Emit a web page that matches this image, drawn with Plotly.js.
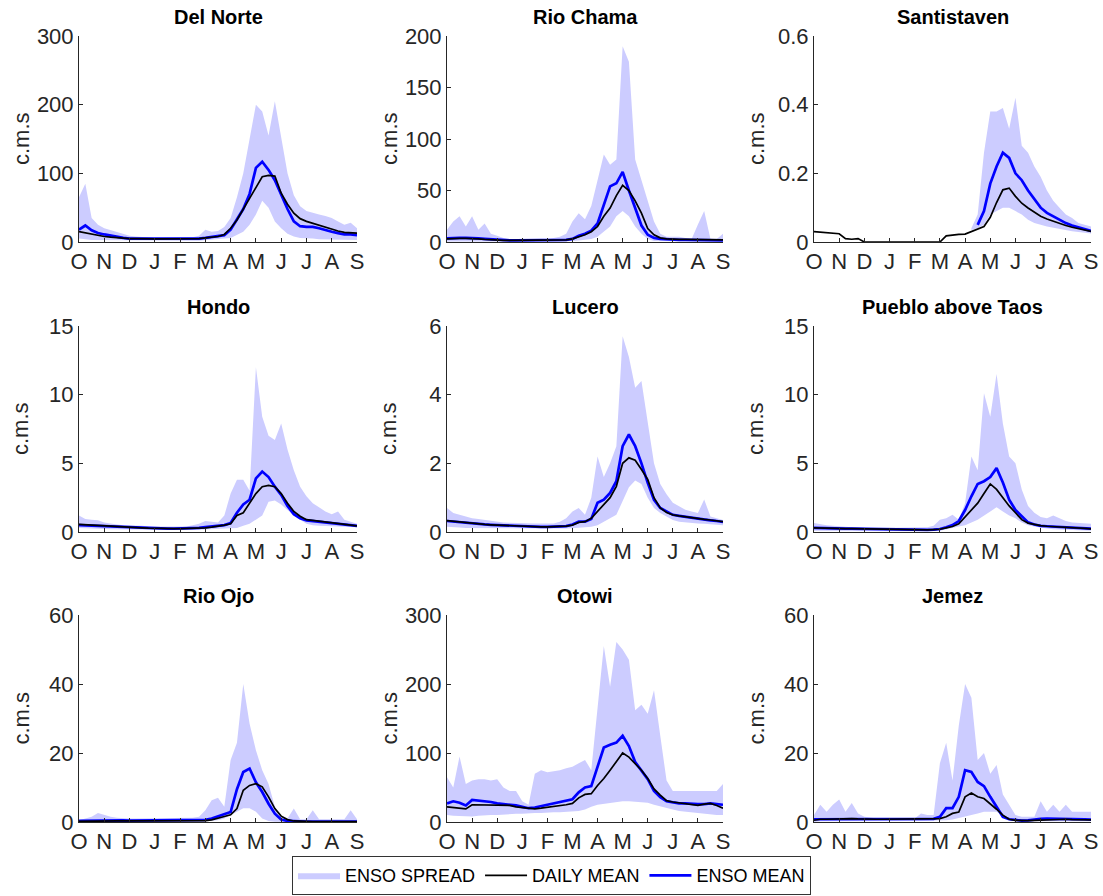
<!DOCTYPE html>
<html>
<head>
<meta charset="utf-8">
<script src="https://cdn.plot.ly/plotly-3.0.1.min.js"></script>
<style>
html,body{margin:0;padding:0;background:#fff;}
#chart{width:1103px;height:896px;}
</style>
</head>
<body>
<div id="chart"></div>
<script>
// ---- tick labels (water year, Oct -> Sep) ----
const monthLabels = ['O','N','D','J','F','M','A','M','J','J','A','S'];
const monthTicks = [0,1,2,3,4,5,6,7,8,9,10,11];

// sample positions, in months since 1 Oct
const xMonths = [0,0.25,0.5,0.75,1,1.25,1.5,1.75,2,2.25,2.5,2.75,3,3.25,3.5,3.75,4,4.25,4.5,4.75,5,5.25,5.5,5.75,6,6.25,6.5,6.75,7,7.25,7.5,7.75,8,8.25,8.5,8.75,9,9.25,9.5,9.75,10,10.25,10.5,10.75,11];

// ---- stations ----
const stationNames = ['Del Norte','Rio Chama','Santistaven','Hondo','Lucero','Pueblo above Taos','Rio Ojo','Otowi','Jemez'];
const yMaxima = [300,200,0.6,15,6,15,60,300,60];
const yTickValues = [[0,100,200,300],[0,50,100,150,200],[0,0.2,0.4,0.6],[0,5,10,15],[0,2,4,6],[0,5,10,15],[0,20,40,60],[0,100,200,300],[0,20,40,60]];

// Del Norte
const delNorteMean  = [15,13,11,9,8,7,6,5.5,5,5,4.5,4.5,4.5,4.5,4.5,4.5,4.5,4.5,5,5,6,7,8,11,20,32,48,62,80,95,97,96,71,55,42,34,30,27,24,21,18,16,14,13,13];
const delNorteEnso  = [18,24,17,13,11,9,7,6,5,5,4.5,4.5,4.5,4.5,4.5,4.5,4.5,4.5,5,5,6,7,8,10,18,33,48,70,108,117,105,90,68,48,30,23,22,22,20,17,15,13,11,11,10];
const delNorteUpper = [65,85,35,25,20,17,15,12,9,8,7,7,6,6,6,6,6,6,7,9,18,15,16,22,35,65,100,150,200,190,155,205,150,100,68,52,45,42,40,38,35,30,25,28,20];
const delNorteLower = [5,4,3,3,3,2.5,2.5,2,2,2,2,2,2,2,2,2,2,2,2,2,3,3,4,5,6,10,15,25,40,60,50,30,20,12,8,6,5,5,4,4,4,4,3,3,3];

// Rio Chama
const rioChamaMean  = [3,3.5,3.5,3.5,3.5,3,2.5,2,2,1.5,1.5,1.5,1.5,1.5,1.5,1.5,1.5,1.5,1.5,2,3,5,7,10,15,25,33,45,55,50,40,28,13,7,4,3,2.5,2.5,2.5,2.5,2,2,2,2,2];
const rioChamaEnso  = [3.5,4,4,4,4,3.5,3,2.5,2,1.5,1.5,1.5,1.5,1.5,1.5,1.5,1.5,1.5,1.5,2,3,6,8,11,18,36,54,57,68,50,32,16,7,4,3,2.5,2,2,2,2,2,2,2,1.5,1.5];
const rioChamaUpper = [12,20,25,15,25,12,18,8,6,4,3,3,3,3,3,3,3,4,5,8,20,28,22,35,60,85,75,80,190,175,80,60,40,20,8,5,5,5,4,3,17,30,3,3,8];
const rioChamaLower = [0.5,0.5,0.5,0.5,0.5,0.5,0.5,0.5,0.5,0.5,0.5,0.5,0.5,0.5,0.5,0.5,0.5,0.5,0.5,0.5,1,1.5,2,3,5,10,15,25,30,25,15,8,3,1,0.5,0.5,0.5,0.5,0.5,0.5,0.5,0.5,0.5,0.5,0.5];

// Santistaven
const santistavenMean  = [0.03,0.029,0.028,0.027,0.024,0.01,0.008,0.01,0,0,0,0,0,0,0,0,0,0,0,0,0,0.018,0.021,0.022,0.023,0.03,0.037,0.045,0.072,0.115,0.152,0.157,0.133,0.113,0.099,0.087,0.075,0.067,0.06,0.054,0.048,0.043,0.039,0.035,0.031];
const santistavenEnso  = [0.035,null,null,null,null,null,null,null,null,null,null,null,null,null,null,null,null,null,null,null,null,null,null,null,null,null,0.05,0.09,0.17,0.22,0.26,0.245,0.2,0.18,0.15,0.125,0.1,0.085,0.075,0.065,0.055,0.048,0.042,0.036,0.032];
const santistavenUpper = [null,null,null,null,null,null,null,null,null,null,null,null,null,null,null,null,null,null,null,null,null,null,null,null,null,0.04,0.08,0.26,0.38,0.38,0.39,0.33,0.42,0.28,0.26,0.22,0.19,0.15,0.12,0.1,0.08,0.07,0.055,0.05,0.045];
const santistavenLower = [null,null,null,null,null,null,null,null,null,null,null,null,null,null,null,null,null,null,null,null,null,null,null,null,null,0.035,0.04,0.05,0.08,0.09,0.1,0.1,0.09,0.08,0.065,0.055,0.05,0.045,0.04,0.037,0.034,0.031,0.029,0.026,0.025];

// Hondo
const hondoMean  = [0.55,0.52,0.5,0.47,0.45,0.42,0.4,0.37,0.35,0.32,0.3,0.28,0.26,0.25,0.25,0.25,0.25,0.25,0.27,0.28,0.3,0.35,0.4,0.5,0.6,1.2,1.4,2.1,2.8,3.3,3.4,3.3,2.8,2.1,1.5,1.15,0.9,0.85,0.8,0.75,0.7,0.65,0.6,0.52,0.45];
const hondoEnso  = [0.5,0.48,0.46,0.44,0.42,0.4,0.38,0.36,0.34,0.32,0.3,0.28,0.26,0.25,0.25,0.25,0.25,0.25,0.27,0.3,0.35,0.4,0.45,0.5,0.65,1.4,2.0,2.35,3.9,4.4,4.0,3.3,2.7,1.9,1.3,1.0,0.85,0.8,0.75,0.7,0.65,0.6,0.55,0.5,0.45];
const hondoUpper = [1.2,0.95,0.9,0.85,0.7,0.6,0.55,0.5,0.5,0.45,0.45,0.4,0.4,0.35,0.35,0.35,0.35,0.4,0.5,0.6,0.8,0.75,0.7,1.2,2.8,3.8,3.8,3.0,12,8.4,7.0,6.7,7.9,6.0,4.5,3.3,2.6,2.1,1.8,1.5,1.3,1.5,0.9,0.75,0.6];
const hondoLower = [0.3,0.28,0.26,0.24,0.22,0.2,0.19,0.18,0.17,0.16,0.15,0.15,0.15,0.15,0.15,0.15,0.15,0.15,0.15,0.16,0.17,0.2,0.22,0.25,0.28,0.3,0.45,0.6,0.9,1.2,2.2,2.3,2.0,1.6,1.2,0.9,0.6,0.5,0.45,0.42,0.4,0.38,0.37,0.36,0.35];

// Lucero
const luceroMean  = [0.33,0.31,0.28,0.26,0.25,0.23,0.22,0.21,0.2,0.19,0.18,0.17,0.17,0.16,0.16,0.15,0.15,0.15,0.15,0.17,0.2,0.28,0.3,0.4,0.6,0.8,1.0,1.33,2.0,2.16,2.09,1.82,1.53,1.0,0.7,0.57,0.5,0.47,0.44,0.41,0.38,0.37,0.35,0.33,0.3];
const luceroEnso  = [0.32,0.3,0.28,0.26,0.24,0.23,0.22,0.21,0.2,0.19,0.18,0.17,0.17,0.16,0.16,0.15,0.15,0.15,0.15,0.17,0.22,0.3,0.3,0.38,0.85,0.94,1.14,1.48,2.5,2.84,2.5,2.0,1.43,0.94,0.7,0.6,0.5,0.47,0.44,0.41,0.38,0.36,0.34,0.32,0.29];
const luceroUpper = [0.7,0.55,0.5,0.45,0.4,0.38,0.35,0.32,0.3,0.28,0.27,0.26,0.25,0.25,0.25,0.25,0.25,0.25,0.3,0.4,0.6,0.7,0.5,1.0,2.2,1.6,2.0,2.5,5.7,5.1,4.2,4.4,3.2,2.0,1.4,1.1,0.85,0.75,0.65,0.6,0.55,0.95,0.45,0.4,0.35];
const luceroLower = [0.15,0.14,0.13,0.12,0.12,0.11,0.11,0.1,0.1,0.1,0.1,0.1,0.1,0.1,0.1,0.1,0.1,0.1,0.1,0.1,0.11,0.12,0.13,0.15,0.2,0.3,0.4,0.5,0.9,1.3,1.5,1.4,1.0,0.7,0.55,0.45,0.35,0.3,0.28,0.26,0.25,0.24,0.23,0.22,0.2];

// Pueblo above Taos
const puebloMean  = [0.3,0.3,0.3,0.28,0.26,0.25,0.24,0.23,0.22,0.2,0.19,0.18,0.17,0.16,0.15,0.15,0.15,0.15,0.16,0.18,0.2,0.3,0.4,0.6,1.1,1.6,2.1,2.8,3.5,3.1,2.5,1.9,1.4,0.9,0.65,0.55,0.46,0.42,0.4,0.38,0.35,0.32,0.3,0.27,0.22];
const puebloEnso  = [0.3,0.3,0.3,0.28,0.26,0.25,0.24,0.23,0.22,0.2,0.19,0.18,0.17,0.16,0.15,0.15,0.15,0.15,0.16,0.18,0.22,0.35,0.5,0.8,1.6,2.6,3.5,3.7,4.0,4.65,3.6,2.35,1.6,1.15,0.7,0.55,0.45,0.42,0.4,0.38,0.35,0.32,0.3,0.27,0.25];
const puebloUpper = [0.65,0.55,0.5,0.45,0.4,0.38,0.35,0.33,0.3,0.3,0.3,0.3,0.3,0.3,0.3,0.3,0.3,0.3,0.35,0.45,0.9,1.0,1.25,0.9,2.1,5.5,4.5,10.1,8.4,11.5,7.9,5.5,5.0,3.1,1.9,1.4,1.1,1.0,1.2,1.0,0.8,0.7,0.65,0.6,0.6];
const puebloLower = [0.1,0.1,0.08,0.07,0.06,0.05,0.05,0.05,0.05,0.05,0.05,0.05,0.05,0.05,0.05,0.05,0.05,0.05,0.06,0.08,0.1,0.2,0.3,0.4,0.5,0.7,0.9,1.2,1.5,1.8,1.5,1.2,1.0,0.7,0.5,0.4,0.3,0.25,0.2,0.18,0.15,0.13,0.12,0.11,0.1];

// Rio Ojo
const rioOjoMean  = [0.2,0.25,0.3,0.3,0.3,0.3,0.3,0.3,0.3,0.3,0.3,0.3,0.3,0.3,0.3,0.3,0.3,0.3,0.3,0.35,0.4,0.6,1.0,1.6,2.1,3.9,9.2,10.6,11.1,10.2,7.3,3.9,1.7,0.7,0.3,0.2,0.15,0.15,0.15,0.15,0.15,0.15,0.15,0.15,0.15];
const rioOjoEnso  = [0.3,0.35,0.4,0.4,0.45,0.45,0.45,0.45,0.4,0.4,0.4,0.4,0.4,0.4,0.4,0.4,0.4,0.4,0.4,0.45,0.6,1.0,1.6,2.1,2.9,9.5,14.5,15.5,11.5,8.7,5.3,2.4,0.7,0.3,0.2,0.15,0.15,0.15,0.15,0.15,0.15,0.15,0.15,0.15,0.15];
const rioOjoUpper = [0.5,1.0,1.5,2.6,2.0,1.5,1.2,1.0,1.0,1.0,1.0,1.0,1.0,1.0,1.0,1.0,1.0,1.0,1.2,1.5,3.4,6.3,7.0,4.4,18,23,40,28.5,20.8,15,11,4.4,1.5,1.0,3.9,0.8,0.8,3.4,0.8,0.8,0.8,0.8,0.8,3.4,0.8];
const rioOjoLower = [0,0,0.05,0.05,0.1,0.1,0.1,0.1,0.1,0.1,0.1,0.1,0.1,0.1,0.1,0.1,0.1,0.1,0.1,0.15,0.2,0.3,0.5,1.0,2.0,3.0,4.0,4.0,3.0,1.0,0.3,0.1,0,0,0,0,0,0,0,0,0,0,0,0,0];

// Otowi
const otowiMean  = [22,21,20,19,25,25,24,24,24,24,24,22,21,20,19,20,21,22,23,25,27,35,40,41,53,63,75,87,100,94,85,75,63,48,39,31,29,28,27,26,24,26,27,24,20];
const otowiEnso  = [27,30,28,24,32,31,31,29,27,26,26,24,22,20,21,23,25,27,28,30,33,43,50,52,80,108,112,115,125,110,87,75,62,45,36,30,28,27,27,26,26,26,27,26,25];
const otowiUpper = [65,50,95,55,60,62,62,60,62,50,45,45,30,25,70,75,72,73,75,78,80,85,90,75,170,255,196,261,250,235,162,170,157,191,125,60,45,45,45,45,45,45,45,45,55];
const otowiLower = [10,9,8,8,8,9,10,10,10,11,11,12,12,12,13,13,13,14,14,15,15,16,18,22,25,27,28,29,30,30,30,29,28,25,22,20,18,16,14,13,12,11,11,10,10];

// Jemez
const jemezMean  = [0.5,0.8,0.8,0.9,1.0,1.0,1.0,0.9,0.8,0.8,0.8,0.8,0.8,0.8,0.8,0.8,0.8,0.8,0.8,0.8,1.0,1.5,2.5,2.9,7.3,8.4,7.3,6.8,5.3,3.7,2.0,0.8,0.5,0.4,0.4,0.5,0.6,0.7,0.8,0.8,0.8,0.7,0.7,0.7,0.6];
const jemezEnso  = [0.8,0.8,0.8,0.9,1.0,1.0,1.0,0.9,0.8,0.8,0.8,0.8,0.8,0.8,0.8,0.8,0.8,0.9,1.0,0.9,1.5,4.0,4.0,7.3,15,14.5,11.6,10.4,7.3,4.5,1.5,0.8,0.5,0.4,0.5,0.8,0.9,1.0,1.0,0.9,0.8,0.8,0.8,0.8,0.7];
const jemezUpper = [2,5,3,5,6.5,3,5.5,2.5,1.5,1.2,1.0,1.0,1.0,1.0,1.0,1.0,1.0,2.5,2.0,2.0,17,23,12,28,40,36,18,20,14,16.5,8,5,2,1.5,1.5,1.5,6,3,5,3,5,3,3,3,3];
const jemezLower = [0,0.2,0.3,0.3,0.3,0.3,0.3,0.3,0.3,0.3,0.3,0.3,0.3,0.3,0.3,0.3,0.3,0.3,0.3,0.3,0.4,0.5,0.7,1.0,1.5,2.0,2.5,3.0,3.0,3.0,2.0,1.0,0.5,0.2,0.2,0.2,0.2,0.2,0.2,0.2,0.2,0.2,0.2,0.2,0.2];

const dailyMeans = [delNorteMean, rioChamaMean, santistavenMean, hondoMean, luceroMean, puebloMean, rioOjoMean, otowiMean, jemezMean];
const ensoMeans  = [delNorteEnso, rioChamaEnso, santistavenEnso, hondoEnso, luceroEnso, puebloEnso, rioOjoEnso, otowiEnso, jemezEnso];
const spreadUpper = [delNorteUpper, rioChamaUpper, santistavenUpper, hondoUpper, luceroUpper, puebloUpper, rioOjoUpper, otowiUpper, jemezUpper];
const spreadLower = [delNorteLower, rioChamaLower, santistavenLower, hondoLower, luceroLower, puebloLower, rioOjoLower, otowiLower, jemezLower];

// ---- layout geometry (pixels) ----
const W = 1103, H = 896;
const colPx = [[79,357],[447,723],[814,1091]];
const rowPx = [[36,242],[326,532],[615,822]];
const FONT = 'Liberation Sans, Arial, Helvetica, sans-serif';
const AXC = '#262626';

const traces = [];
const layout = {
  width: W, height: H,
  margin: {l:0, r:0, t:0, b:0},
  paper_bgcolor: '#fff', plot_bgcolor: 'rgba(0,0,0,0)',
  font: {family: FONT, color: AXC},
  showlegend: true,
  legend: {
    orientation: 'h', x: 0.5, xanchor: 'center', y: 0.001, yanchor: 'bottom',
    bordercolor: '#333', borderwidth: 1, bgcolor: '#fff',
    font: {family: FONT, size: 18, color: '#000'},
    itemwidth: 42, tracegroupgap: 0, traceorder: 'normal'
  },
  annotations: []
};

stationNames.forEach((name, i) => {
  const r = Math.floor(i/3), c = i%3;
  const n = i+1;
  const xa = 'x' + (n===1?'':n), ya = 'y' + (n===1?'':n);
  const xk = 'xaxis' + (n===1?'':n), yk = 'yaxis' + (n===1?'':n);
  const xd = [colPx[c][0]/W, colPx[c][1]/W];
  const yd = [1 - rowPx[r][1]/H, 1 - rowPx[r][0]/H];

  layout[xk] = {
    domain: xd, anchor: ya, range: [0, 11], fixedrange: true,
    showline: true, linecolor: AXC, linewidth: 1, mirror: false,
    ticks: 'inside', ticklen: 4, tickcolor: AXC, tickwidth: 1,
    tickvals: monthTicks, ticktext: monthLabels,
    tickfont: {family: FONT, size: 22, color: AXC},
    showgrid: false, zeroline: false
  };
  layout[yk] = {
    domain: yd, anchor: xa, range: [0, yMaxima[i]], fixedrange: true,
    showline: true, linecolor: AXC, linewidth: 1, mirror: false,
    ticks: 'inside', ticklen: 4, tickcolor: AXC, tickwidth: 1,
    tickvals: yTickValues[i],
    tickfont: {family: FONT, size: 22, color: AXC},
    showgrid: false, zeroline: false
  };

  // spread polygon from data
  const up = spreadUpper[i], lo = spreadLower[i];
  const px = [], py = [];
  for (let k = 0; k < xMonths.length; k++) if (up[k] !== null) { px.push(xMonths[k]); py.push(up[k]); }
  for (let k = xMonths.length-1; k >= 0; k--) if (lo[k] !== null) { px.push(xMonths[k]); py.push(lo[k]); }
  traces.push({
    type: 'scatter', mode: 'lines', x: px, y: py, xaxis: xa, yaxis: ya,
    fill: 'toself', fillcolor: '#ccccff', line: {width: 0, color: '#ccccff'},
    name: 'ENSO SPREAD', showlegend: i===0, legendrank: 1, hoverinfo: 'skip'
  });
  traces.push({
    type: 'scatter', mode: 'lines', x: xMonths, y: ensoMeans[i], xaxis: xa, yaxis: ya,
    line: {color: '#0000ff', width: 2.7}, connectgaps: false,
    name: 'ENSO MEAN', showlegend: i===0, legendrank: 3, hoverinfo: 'skip'
  });
  traces.push({
    type: 'scatter', mode: 'lines', x: xMonths, y: dailyMeans[i], xaxis: xa, yaxis: ya,
    line: {color: '#000000', width: 1.7},
    name: 'DAILY MEAN', showlegend: i===0, legendrank: 2, hoverinfo: 'skip'
  });

  // subplot title
  layout.annotations.push({
    text: '<b>' + name + '</b>', xref: 'paper', yref: 'paper',
    x: (xd[0]+xd[1])/2, y: yd[1], xanchor: 'center', yanchor: 'bottom', yshift: 6,
    showarrow: false, font: {family: FONT, size: 20, color: '#000'}
  });
  // y axis label
  layout.annotations.push({
    text: 'c.m.s', xref: 'paper', yref: 'paper',
    x: xd[0], y: (yd[0]+yd[1])/2, xanchor: 'center', yanchor: 'middle', xshift: -58,
    textangle: -90, showarrow: false, font: {family: FONT, size: 22, color: AXC}
  });
});

Plotly.newPlot('chart', traces, layout, {staticPlot: true, displayModeBar: false});
</script>
</body>
</html>
